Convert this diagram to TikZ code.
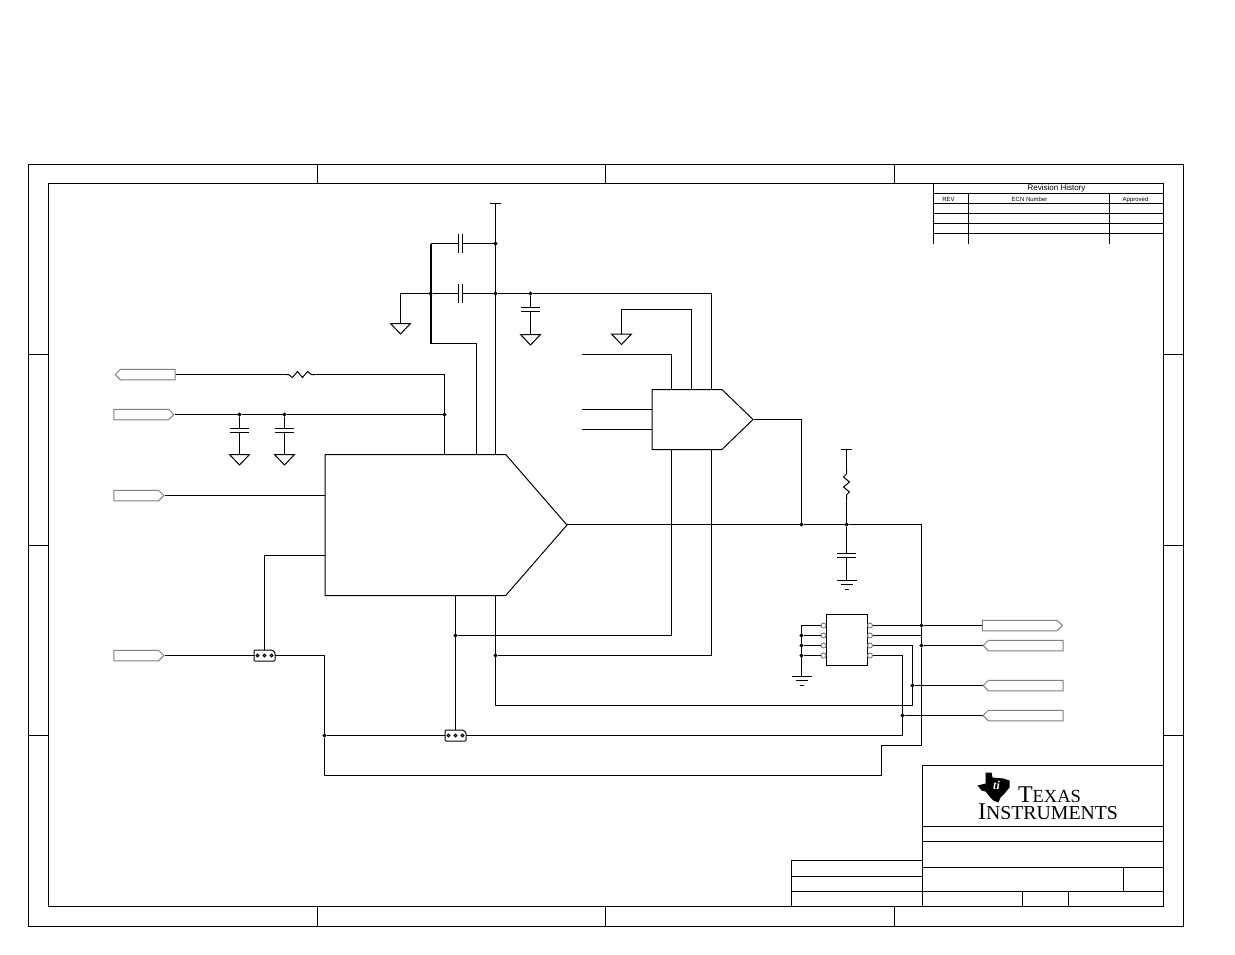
\documentclass[tikz,border=0pt]{standalone}
\usepackage{fontspec}
\setmainfont{Liberation Sans}
\newfontfamily\logofont{Liberation Serif}
\usetikzlibrary{shapes.symbols}
\tikzset{
    gnd/.pic={
        \coordinate (-in) at (0,0);
        \draw (-10,0) -- (10,0) -- (0,10.5) -- cycle;
    },
    earth/.pic={
        \coordinate (-in) at (0,0);
        \draw (-10,0) -- (10,0) (-6,4.7) -- (6,4.7) (-2,9) -- (2,9);
    },
    capv/.pic={
        \coordinate (-a) at (0,-2);
        \coordinate (-b) at (0,2);
        \draw (-9.5,-2) -- (9.5,-2) (-9.5,2) -- (9.5,2);
    },
    caph/.pic={
        \coordinate (-a) at (-2,0);
        \coordinate (-b) at (2,0);
        \draw (-2,-9.5) -- (-2,9.5) (2,-9.5) -- (2,9.5);
    },
    resh/.pic={
        \coordinate (-a) at (-15,0);
        \coordinate (-b) at (15,0);
        \draw (-15,0) -- (-12,0) -- (-8,3) -- (-3,-3) -- (2,3) -- (7,-3) -- (11,0) -- (15,0);
    },
    resv/.pic={
        \coordinate (-a) at (0,-15.5);
        \coordinate (-b) at (0,15.5);
        \draw (0,-15.5) -- (0,-11) -- (-3,-8) -- (3,-3) -- (-3,2) -- (3,7) -- (0,10) -- (0,15.5);
    },
    jumper/.pic={
        \coordinate (-l) at (-10.5,0);
        \coordinate (-r) at (10.5,0);
        \coordinate (-m) at (0,-5.5);
        \draw[rounded corners=1pt] (-10.5,-5.5) -- (7.5,-5.5) -- (10.5,-3) -- (10.5,5.5) -- (-10.5,5.5) -- cycle;
        \draw (-7,0) circle (1.4) (0,0) circle (1.4) (7,0) circle (1.4);
    }
}
\begin{document}
\begin{tikzpicture}[
    x=1pt, y=-1pt,
    line width=1pt,
    tagbox/.style={draw=gray, signal, signal pointer angle=90, minimum height=10.5pt, inner sep=0},
    tagr/.style={tagbox, signal to=east, anchor=east},
    tagl/.style={tagbox, signal to=west, anchor=west},
    amp/.style={draw, signal, signal to=east, anchor=west, inner sep=0},
    dot/.style={draw, fill, circle, minimum size=3pt, inner sep=0},
    rail/.style={draw, rectangle, minimum width=11pt, minimum height=0, inner sep=0},
    pinc/.style={draw=gray, circle, minimum size=5pt, inner sep=0},
    lbl/.style={inner sep=0, font=\fontsize{6}{6}\selectfont}
    ]
    \useasboundingbox (-0.5,-0.5) rectangle (1234.5,953.5);

    % sheet frame
    \draw (28,164) rectangle (1183,926);
    \draw (48,183) rectangle (1163,906);
    \draw (317,164) -- (317,183) (605,164) -- (605,183) (894,164) -- (894,183);
    \draw (317,906) -- (317,926) (605,906) -- (605,926) (894,906) -- (894,926);
    \draw (28,354) -- (48,354) (28,545) -- (48,545) (28,735) -- (48,735);
    \draw (1163,354) -- (1183,354) (1163,545) -- (1183,545) (1163,735) -- (1183,735);

    % revision table
    \draw (933,243) -- (933,183) -- (1163,183);
    \draw (933,193) -- (1163,193) (933,203) -- (1163,203) (933,213) -- (1163,213);
    \draw (933,223) -- (1163,223) (933,233) -- (1163,233);
    \draw (968,193) -- (968,243) (1109,193) -- (1109,243);
    \node[lbl, font=\fontsize{8}{8}\selectfont] (revtitle) at (1056,188) {Revision History};
    \node[lbl] (revrev) at (948,199) {REV};
    \node[lbl] (revecn) at (1029,199) {ECN Number};
    \node[lbl] (revapp) at (1135,199) {Approved};

    % title block
    \draw (922,906) -- (922,765) -- (1163,765);
    \draw (922,826) -- (1163,826) (922,841) -- (1163,841) (922,867) -- (1163,867);
    \draw (922,891) -- (1163,891) (1123,867) -- (1123,891);
    \draw (1022,891) -- (1022,906) (1068,891) -- (1068,906);
    \draw (791,906) -- (791,860) -- (922,860) (791,876) -- (922,876) (791,891) -- (922,891);
    \fill (985,772) -- (991,772) -- (992,777) -- (1003,778) -- (1009,780) -- (1009,787)
        -- (1004,793) -- (1000,797) -- (998,802) -- (993,800) -- (989,796) -- (985,791)
        -- (981,790) -- (977,785) -- (985,783) -- cycle;
    \node[inner sep=0, white, font=\logofont\itshape\bfseries\fontsize{12}{12}\selectfont] (tilogo) at (996,785) {ti};
    \node[inner sep=0, anchor=south west, align=left, font=\logofont] (txlogo) at (977,820)
        {\hspace*{40pt}\fontsize{24}{18}\selectfont T\fontsize{18.5}{18}\selectfont EXAS\\
        \fontsize{24}{18}\selectfont I\fontsize{19.8}{18}\selectfont NSTRUMENTS};

    % amplifiers and the eight pin part
    \node[amp, signal pointer angle=98, minimum width=242pt, minimum height=141pt] (adc) at (324,524.5) {};
    \node[amp, signal pointer angle=88, minimum width=101pt, minimum height=60pt] (buf) at (651,419) {};
    \node[draw, minimum width=40.5pt, minimum height=51pt, inner sep=0] (chip) at (846.3,639.5) {};
    \node[pinc] (pa) at (823,625) {};
    \node[pinc] (pb) at (823,635) {};
    \node[pinc] (pc) at (823,645) {};
    \node[pinc] (pd) at (823,655) {};
    \node[pinc] (pe) at (869.5,625) {};
    \node[pinc] (pf) at (869.5,635) {};
    \node[pinc] (pg) at (869.5,645) {};
    \node[pinc] (ph) at (869.5,655) {};

    % signal tags
    \node[tagl, minimum width=60pt] (tagin) at (114,374) {};
    \node[tagr, minimum width=60pt] (tagref) at (174,414) {};
    \node[tagr, minimum width=50pt] (tagclk) at (164,495) {};
    \node[tagr, minimum width=50pt] (tagsel) at (164,655) {};
    \node[tagr, minimum width=80pt] (tagout) at (1062.5,625) {};
    \node[tagl, minimum width=80pt] (tagb) at (982,645) {};
    \node[tagl, minimum width=80pt] (tagc) at (982,685) {};
    \node[tagl, minimum width=80pt] (tagd) at (982,715) {};

    % junctions
    \node[dot] (ja) at (495,243) {};
    \node[dot] (jb) at (495,293) {};
    \node[dot] (jc) at (530,293) {};
    \node[dot] (jd) at (430,293) {};
    \node[dot] (je) at (239,414) {};
    \node[dot] (jf) at (284,414) {};
    \node[dot] (jg) at (444,414) {};
    \node[dot] (jh) at (801,524) {};
    \node[dot] (ji) at (846,524) {};
    \node[dot] (jj) at (455,635) {};
    \node[dot] (jk) at (495,655) {};
    \node[dot] (jl) at (324,735) {};
    \node[dot] (jm) at (921,625) {};
    \node[dot] (jn) at (921,645) {};
    \node[dot] (jo) at (912,685) {};
    \node[dot] (jp) at (902,715) {};
    \node[dot] (jq) at (801,635) {};
    \node[dot] (jr) at (801,645) {};
    \node[dot] (js) at (801,655) {};

    % pin points on the amplifiers
    \coordinate (adco) at (566,524);
    \coordinate (adcb) at (495,454);
    \coordinate (adcr) at (444,454);
    \coordinate (adcc) at (476,454);
    \coordinate (adcj) at (455,595);
    \coordinate (adck) at (495,595);
    \coordinate (adcd) at (324,495);
    \coordinate (adce) at (324,555);
    \coordinate (bufa) at (671,389);
    \coordinate (bufb) at (691,389);
    \coordinate (bufc) at (711,389);
    \coordinate (bufe) at (671,449);
    \coordinate (buff) at (711,449);
    \coordinate (bufg) at (651,409);
    \coordinate (bufh) at (651,429);
    \coordinate (inda) at (581,354);
    \coordinate (indb) at (581,409);
    \coordinate (indc) at (581,429);

    % parts
    \node[rail] (vcca) at (495,203) {};
    \node[rail] (vccb) at (846,449) {};
    \pic (ca) at (460,243) {caph};
    \pic (cb) at (460,293) {caph};
    \pic (cc) at (530,309) {capv};
    \pic (cd) at (239,429.5) {capv};
    \pic (ce) at (284,429.5) {capv};
    \pic (cf) at (846,554.5) {capv};
    \pic (ra) at (300,374) {resh};
    \pic (rb) at (846,484.5) {resv};
    \pic (ga) at (400,323) {gnd};
    \pic (gb) at (530,334) {gnd};
    \pic (gc) at (621,333.5) {gnd};
    \pic (gd) at (239,454) {gnd};
    \pic (ge) at (284,454) {gnd};
    \pic (ea) at (846,579.5) {earth};
    \pic (eb) at (801,675.5) {earth};
    \pic (ua) at (264,655) {jumper};
    \pic (ub) at (455,735) {jumper};

    % wires
    \draw (vcca) -- (adcb);
    \draw (ja) -- (ca-b) (ca-a) -- (430,243);
    \draw[line width=2pt] (430,243) -- (430,343);
    \draw (430,343) -| (adcc);
    \draw (jb) -- (cb-b) (cb-a) -- (jd) -- (400,293) -- (ga-in);
    \draw (jb) -- (jc) -- (711,293) -- (bufc);
    \draw (jc) -- (cc-a) (cc-b) -- (gb-in);
    \draw (gc-in) |- (691,308.5) -- (bufb);
    \draw (inda) -| (bufa);
    \draw (indb) -- (bufg);
    \draw (indc) -- (bufh);
    \draw (tagin.east) -- (ra-a) (ra-b) -| (adcr);
    \draw (tagref.east) -- (je) -- (jf) -- (jg) -- (adcr);
    \draw (je) -- (cd-a) (cd-b) -- (gd-in);
    \draw (jf) -- (ce-a) (ce-b) -- (ge-in);
    \draw (tagclk.east) -- (adcd);
    \draw (tagsel.east) -- (ua-l);
    \draw (ua-m) |- (adce);
    \draw (ua-r) -| (jl);
    \draw (jl) -- (ub-l);
    \draw (ub-m) -- (adcj);
    \draw (jj) -| (bufe);
    \draw (jk) -| (buff);
    \draw (adck) |- (912,705);
    \draw (adco) -- (jh) -- (ji) -- (921,524) -- (jm) -- (jn) -- (921,745) -- (881,745) -- (881,775) -- (324,775) -- (jl);
    \draw (buf.east) -| (jh);
    \draw (vccb) -- (rb-a) (rb-b) -- (ji) -- (cf-a) (cf-b) -- (ea-in);
    \draw (pa) -- (801,625) -- (eb-in);
    \draw (pb) -- (jq);
    \draw (pc) -- (jr);
    \draw (pd) -- (js);
    \draw (pe) -- (jm) -- (tagout.west);
    \draw (pf) -- (921,635);
    \draw (pg) -| (912,705);
    \draw (ph) -| (902,735) -- (ub-r);
    \draw (jn) -- (tagb.west);
    \draw (jo) -- (tagc.west);
    \draw (jp) -- (tagd.west);
\end{tikzpicture}
\end{document}
